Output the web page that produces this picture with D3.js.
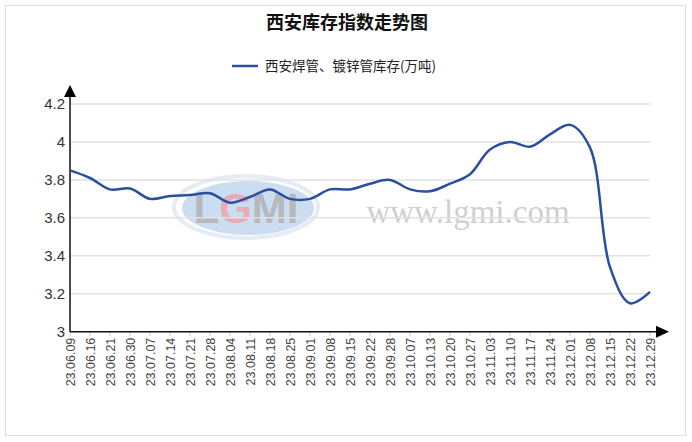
<!DOCTYPE html>
<html><head><meta charset="utf-8">
<script src="https://cdn.jsdelivr.net/npm/d3@7"></script>
<style>body{margin:0;background:#fff}svg{display:block}</style>
</head><body>
<svg id="c" width="692" height="442"></svg>
<script>
const categories=["23.06.09","23.06.16","23.06.21","23.06.30","23.07.07","23.07.14","23.07.21","23.07.28","23.08.04","23.08.11","23.08.18","23.08.25","23.09.01","23.09.08","23.09.15","23.09.22","23.09.28","23.10.07","23.10.13","23.10.20","23.10.27","23.11.03","23.11.10","23.11.17","23.11.24","23.12.01","23.12.08","23.12.15","23.12.22","23.12.29"];
const values=[3.85,3.81,3.75,3.755,3.70,3.715,3.72,3.73,3.68,3.71,3.75,3.70,3.70,3.75,3.75,3.78,3.80,3.75,3.74,3.78,3.83,3.96,4.00,3.975,4.04,4.09,3.97,3.34,3.15,3.21];
const yTicks=[3,3.2,3.4,3.6,3.8,4,4.2];
const title="西安库存指数走势图";
const seriesName="西安焊管、镀锌管库存(万吨)";

const svg=d3.select("#c");
const L=70,R=650,T=104,B=331.7;
svg.append("rect").attr("x",5.5).attr("y",5.5).attr("width",680).attr("height",430).attr("fill","#fff").attr("stroke","#ddd");

const x=d3.scalePoint().domain(categories).range([L,R]);
const y=d3.scaleLinear().domain([3,4.2]).range([B,T]);

// watermark
const wm=svg.append("g");
wm.append("ellipse").attr("cx",246).attr("cy",207).attr("rx",72).attr("ry",31).attr("fill","none").attr("stroke","#e4ecf5").attr("stroke-width",4);
wm.append("ellipse").attr("cx",248).attr("cy",208).attr("rx",66).attr("ry",27).attr("fill","#c2d7ee").attr("opacity",0.85);
const lg=wm.append("text").attr("x",246).attr("y",223).attr("text-anchor","middle").attr("font-family","Liberation Sans, Arial").attr("font-weight","bold").attr("font-size",42).attr("opacity",0.8);
lg.append("tspan").attr("fill","#b0b0b0").text("L");
lg.append("tspan").attr("fill","#f0a0a8").text("G");
lg.append("tspan").attr("fill","#b0b0b0").text("MI");
wm.append("text").attr("x",468).attr("y",223).attr("text-anchor","middle").attr("font-family","Liberation Serif, serif").attr("font-size",33).attr("fill","#cfcfcf").text("www.lgmi.com");

// grid
svg.append("g").selectAll("line").data(yTicks.slice(1)).join("line")
 .attr("x1",L).attr("x2",R).attr("y1",d=>y(d)).attr("y2",d=>y(d)).attr("stroke","#e2e2e2").attr("stroke-width",1.5);

// y labels
svg.append("g").selectAll("text").data(yTicks).join("text")
 .attr("x",65).attr("y",d=>y(d)+5).attr("text-anchor","end").attr("font-family","Liberation Sans, Arial").attr("font-size",15).attr("fill","#333")
 .text(d=>d3.format("")(d));

// x ticks
svg.append("g").selectAll("line").data(categories).join("line")
 .attr("x1",d=>x(d)).attr("x2",d=>x(d)).attr("y1",B).attr("y2",B+4).attr("stroke","#ccc");

// x labels
svg.append("g").selectAll("text").data(categories).join("text")
 .attr("transform",d=>`translate(${x(d)+4.5},${B+6}) rotate(-90)`).attr("text-anchor","end")
 .attr("font-family","Liberation Sans, Arial").attr("font-size",12.5).attr("fill","#444").text(d=>d);

// axes
svg.append("line").attr("x1",L).attr("x2",L).attr("y1",B).attr("y2",95).attr("stroke","#111").attr("stroke-width",1.5);
svg.append("path").attr("d",`M${L-6},97L${L},85L${L+6},97Z`).attr("fill","#000");
svg.append("line").attr("x1",L).attr("x2",658).attr("y1",B).attr("y2",B).attr("stroke","#111").attr("stroke-width",1.5);
svg.append("path").attr("d",`M656,${B-6}L669,${B}L656,${B+6}Z`).attr("fill","#000");

// line
const line=d3.line().x((d,i)=>x(categories[i])).y(d=>y(d)).curve(d3.curveCatmullRom.alpha(0.5));
svg.append("path").datum(values).attr("d",line).attr("fill","none").attr("stroke","#2b4fa0").attr("stroke-width",2.5);

// title & legend
svg.append("text").attr("x",347).attr("y",29).attr("text-anchor","middle").attr("font-family","Noto Sans CJK SC").attr("font-weight","bold").attr("font-size",18).attr("fill","#111").text(title);
svg.append("line").attr("x1",232).attr("x2",258).attr("y1",66).attr("y2",66).attr("stroke","#2b4fa0").attr("stroke-width",2.5);
svg.append("text").attr("x",265).attr("y",71).attr("font-family","Noto Sans CJK SC").attr("font-size",13.5).attr("fill","#222").text(seriesName);
</script>
</body></html>
